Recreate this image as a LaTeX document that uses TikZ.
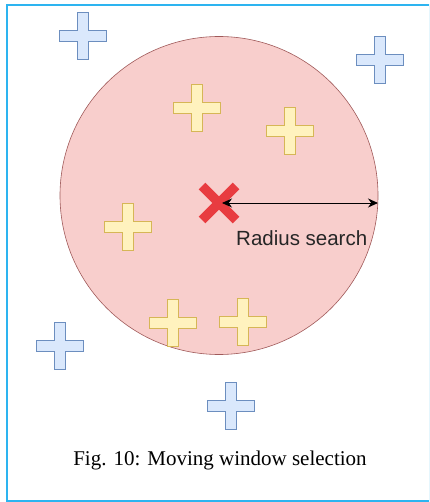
\documentclass[tikz,border=0pt]{standalone}
\usepackage{fontspec}
\setmainfont{Liberation Serif}
\setsansfont{Liberation Sans}
\usetikzlibrary{arrows.meta,calc}

\definecolor{frameblue}{RGB}{45,180,240}
\definecolor{windowfill}{RGB}{248,206,204}
\definecolor{windowline}{RGB}{160,90,90}
\definecolor{centerred}{RGB}{232,60,64}
\definecolor{infill}{RGB}{255,242,190}
\definecolor{inline}{RGB}{214,182,86}
\definecolor{outfill}{RGB}{218,232,252}
\definecolor{outline}{RGB}{108,142,191}

\begin{document}
\begin{tikzpicture}[x=1pt,y=-1pt,
    window/.style={draw=windowline,fill=windowfill,line width=.6pt},
    inpoint/.style={draw=inline,fill=infill,line width=.8pt},
    outpoint/.style={draw=outline,fill=outfill,line width=.8pt},
    radiusline/.style={{Stealth[length=10pt,width=9pt]}-{Stealth[length=10pt,width=9pt]},line width=.9pt}]
    \useasboundingbox (0,0) rectangle (429,502);
    \clip (0,0) rectangle (429,502);

    % frame
    \draw[frameblue,line width=2pt] (7,5) rectangle (430,501);

    % search window
    \node[window,circle,minimum size=318pt,inner sep=0pt] (win) at (219,195.5) {};

    % points inside the window
    \foreach \px/\py in {196.5/108, 289.5/131, 128/227, 173/323, 243/322}
        \draw[inpoint] (\px-5.5,\py-23.5) -- ++(11,0) -- ++(0,18) -- ++(18,0) -- ++(0,11)
            -- ++(-18,0) -- ++(0,18) -- ++(-11,0) -- ++(0,-18) -- ++(-18,0) -- ++(0,-11)
            -- ++(18,0) -- cycle;

    % points outside the window
    \foreach \px/\py in {82.5/36, 380/60, 59.5/346, 231/405.5}
        \draw[outpoint] (\px-5.5,\py-23.5) -- ++(11,0) -- ++(0,18) -- ++(18,0) -- ++(0,11)
            -- ++(-18,0) -- ++(0,18) -- ++(-11,0) -- ++(0,-18) -- ++(-18,0) -- ++(0,-11)
            -- ++(18,0) -- cycle;

    % current position
    \coordinate (pos) at (219,203);
    \draw[centerred,line width=9.5pt] ($(pos)+(-17,-17)$) -- ($(pos)+(17,17)$);
    \draw[centerred,line width=9.5pt] ($(pos)+(-17,17)$) -- ($(pos)+(17,-17)$);

    % radius
    \coordinate (rstart) at (222,203);
    \coordinate (rend) at (378,203);
    \draw[radiusline] (rstart) -- (rend);
    \node[font=\sffamily\fontsize{20.5}{23}\selectfont,text=black!85,anchor=west,inner sep=0pt] (rlabel) at (236,238) {Radius search};

    % caption
    \node[font=\fontsize{21}{24}\selectfont,inner sep=0pt] (caption) at (220,460) {Fig. 10: Moving window selection};
\end{tikzpicture}
\end{document}
